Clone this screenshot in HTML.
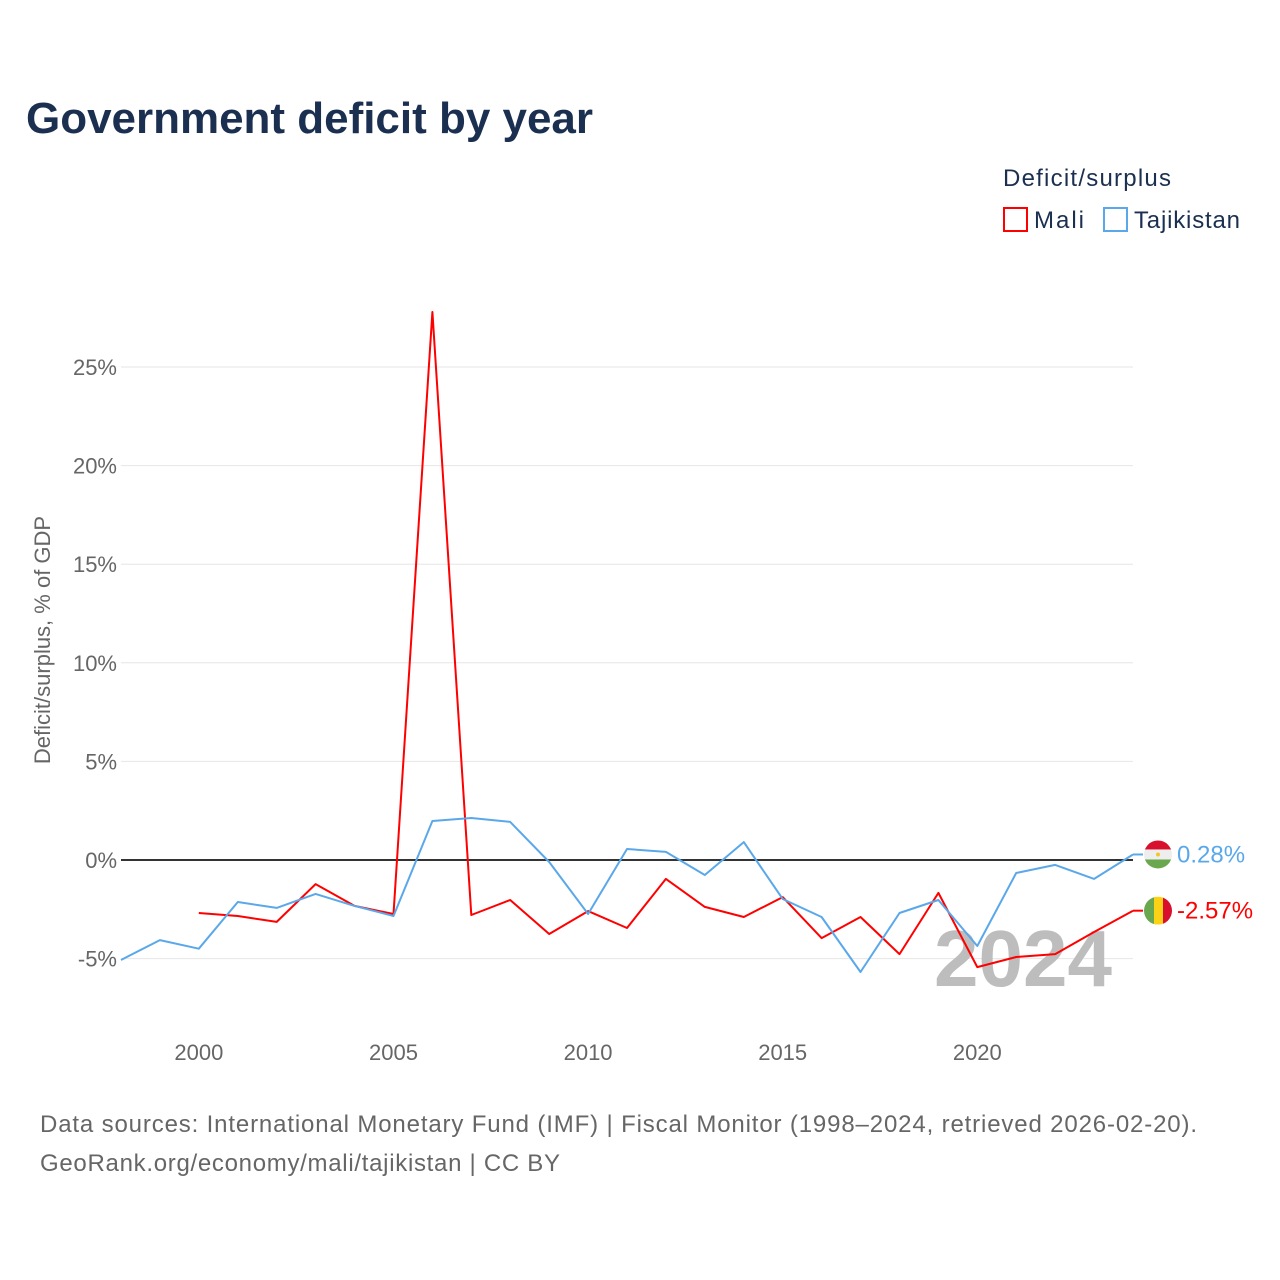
<!DOCTYPE html>
<html><head><meta charset="utf-8"><style>
body{margin:0;background:#fff;font-family:"Liberation Sans",sans-serif}
#wrap{position:relative;width:1280px;height:1280px;overflow:hidden}
</style></head><body>
<div id="wrap">
<svg id="svg" width="1280" height="1280" xmlns="http://www.w3.org/2000/svg" style="position:absolute;left:0;top:0">
<text x="26" y="133" font-size="44" font-weight="bold" fill="#1b2f50" textLength="567">Government deficit by year</text>
<text x="1003" y="186" font-size="24" fill="#1b2f50" textLength="168">Deficit/surplus</text>
<g><rect x="1004" y="208" width="23" height="23" fill="none" stroke="#ff0000" stroke-width="2"/><text x="1034" y="228" font-size="24" fill="#1b2f50" textLength="50">Mali</text></g>
<g><rect x="1104" y="208" width="23" height="23" fill="none" stroke="#5aa8ea" stroke-width="2"/><text x="1134" y="228" font-size="24" fill="#1b2f50" textLength="106">Tajikistan</text></g>
<text transform="translate(50,640) rotate(-90)" text-anchor="middle" font-size="22" fill="#666">Deficit/surplus, % of GDP</text>
<g id="grid"></g>
<text x="1112" y="986" text-anchor="end" font-size="80" font-weight="bold" fill="#bdbdbd">2024</text>
<g id="series"></g>
<text x="40" y="1132" font-size="24" fill="#666" textLength="1157">Data sources: International Monetary Fund (IMF) | Fiscal Monitor (1998–2024, retrieved 2026-02-20).</text>
<text x="40" y="1171" font-size="24" fill="#666" textLength="520">GeoRank.org/economy/mali/tajikistan | CC BY</text>
</svg>
</div>
<script>
const years=[1998,1999,2000,2001,2002,2003,2004,2005,2006,2007,2008,2009,2010,2011,2012,2013,2014,2015,2016,2017,2018,2019,2020,2021,2022,2023,2024];
const tajikistan=[-5.07,-4.06,-4.5,-2.13,-2.43,-1.72,-2.33,-2.84,1.98,2.13,1.93,-0.1,-2.74,0.56,0.41,-0.76,0.91,-1.98,-2.89,-5.68,-2.69,-2.03,-4.36,-0.66,-0.25,-0.96,0.28];
const mali=[null,null,-2.69,-2.84,-3.14,-1.22,-2.33,-2.74,27.79,-2.79,-2.03,-3.75,-2.59,-3.45,-0.96,-2.38,-2.89,-1.88,-3.96,-2.89,-4.77,-1.67,-5.43,-4.92,-4.77,-3.65,-2.57];
const yTicks=[-5,0,5,10,15,20,25];
const xTicks=[2000,2005,2010,2015,2020];
const NS="http://www.w3.org/2000/svg";
const X=y=>121+(y-1998)*(1133-121)/26;
const Y=v=>860-v*19.72;
const grid=document.getElementById('grid'),ser=document.getElementById('series');
function mk(t,a,p){const e=document.createElementNS(NS,t);for(const k in a)e.setAttribute(k,a[k]);p.appendChild(e);return e;}
yTicks.forEach(v=>{
 const l=mk('line',{x1:121,x2:1133,y1:Y(v),y2:Y(v),stroke:v===0?'#333':'#e6e6e6','stroke-width':v===0?2:1},grid);
 
 
 const t=mk('text',{x:117,y:Y(v)+8,'text-anchor':'end','font-size':22,fill:'#666'},grid);
 t.textContent=v+'%';
 
 
});
xTicks.forEach(y=>{
 const t=mk('text',{x:X(y),y:1060,'text-anchor':'middle','font-size':22,fill:'#666'},grid);
 t.textContent=y;
 
 
});
function line(vals,color,name){
 let d='';vals.forEach((v,i)=>{if(v===null)return;d+=(d?'L':'M')+X(years[i]).toFixed(1)+','+Y(v).toFixed(1);});
 const p=mk('path',{d:d,fill:'none',stroke:color,'stroke-width':2,'stroke-linejoin':'round'},ser);
 
 
}
line(mali,'#ff0000','mali-line');
line(tajikistan,'#5aa8ea','tajikistan-line');
function endLabel(v,color,name,flag){
 const y=Y(v),x=X(2024);
 mk('line',{x1:x,x2:x+10,y1:y,y2:y,stroke:color,'stroke-width':2},ser);
 const g=mk('g',{},ser);
 
 
 const cx=x+25;
 const cp=mk('clipPath',{id:'c'+name},g);mk('circle',{cx:cx,cy:y,r:14},cp);
 const gg=mk('g',{'clip-path':'url(#c'+name+')'},g);
 if(flag==='tj'){mk('rect',{x:cx-14,y:y-14,width:28,height:9,fill:'#d8102e'},gg);mk('rect',{x:cx-14,y:y-5,width:28,height:10,fill:'#eee'},gg);mk('rect',{x:cx-14,y:y+5,width:28,height:9,fill:'#6aa84f'},gg);mk('circle',{cx:cx,cy:y,r:2,fill:'#f4c430'},gg);}
 else{mk('rect',{x:cx-14,y:y-14,width:10,height:28,fill:'#6aa84f'},gg);mk('rect',{x:cx-4,y:y-14,width:9,height:28,fill:'#fcd116'},gg);mk('rect',{x:cx+5,y:y-14,width:9,height:28,fill:'#d8102e'},gg);}
 const t=mk('text',{x:cx+19,y:y+8,'font-size':24,fill:color},ser);
 t.textContent=v.toFixed(2)+'%';
 
 
}
endLabel(tajikistan[tajikistan.length-1],'#5aa8ea','tajikistan','tj');
endLabel(mali[mali.length-1],'#ff0000','mali','ml');
</script>
</body></html>
